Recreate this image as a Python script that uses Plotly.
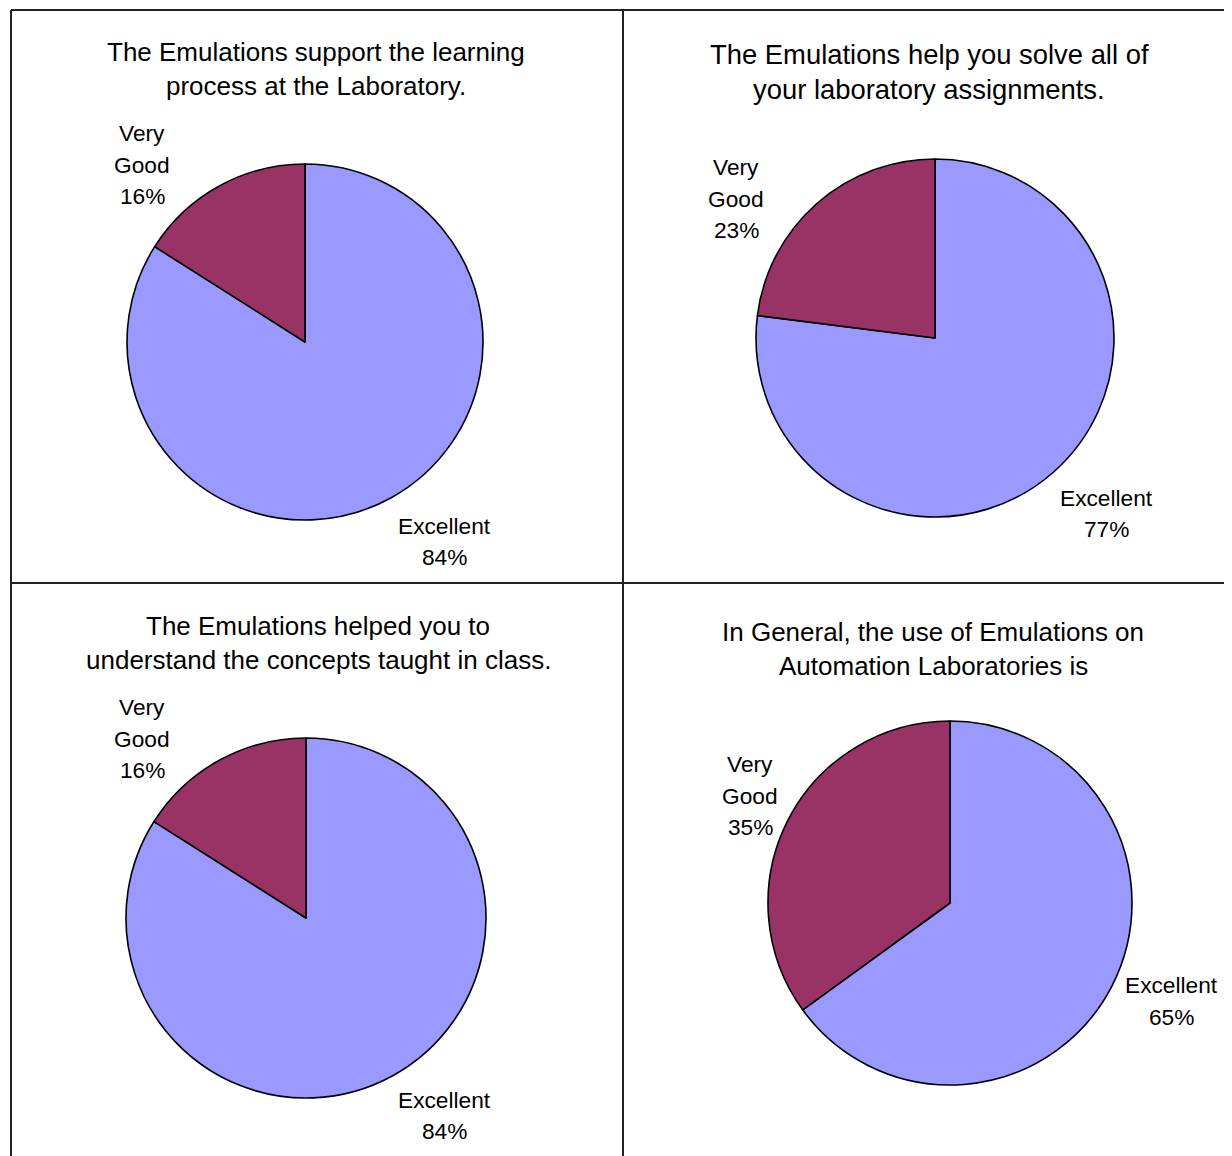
import plotly.graph_objects as go

W, H = 1232, 1156
OFF = 8  # page body margin compensation

# ---- data ----
categories = ["Excellent", "Very Good"]
titles = [
    ["The Emulations support the learning", "process at the Laboratory."],
    ["The Emulations help you solve all of", "your laboratory assignments."],
    ["The Emulations helped you to", "understand the concepts taught in class."],
    ["In General, the use of Emulations on", "Automation Laboratories is"],
]
excellent_pct = [84, 77, 84, 65]
very_good_pct = [16, 23, 16, 35]
colors = ["#9999FF", "#993366"]

# ---- layout (pixels in the target image) ----
pie_centers = [(305, 342), (935, 338), (306, 918), (950, 903)]
pie_radii = [178, 179, 180, 182]
title_x = [316, 929, 318, 933]
title_y = [(52, 86), (54, 90), (626, 660), (632, 666)]
title_sizes = [26, 27.4, 26, 26]
vg_x = [142, 736, 142, 750]
vg_y = [(133, 165, 196), (167, 199, 230), (707, 739, 770), (764, 796, 827)]
ex_x = [444, 1106, 444, 1171]
ex_y = [(526, 557), (498, 529), (1100, 1131), (985, 1017)]
LABEL_SIZE = 22.7
FONT = "Liberation Sans, Arial, sans-serif"


def px(x):
    return (x - OFF) / W


def py(y):
    return 1 - (y - OFF) / H


fig = go.Figure()
annotations = []


def add_text(x, y, text, size):
    annotations.append(dict(
        x=px(x), y=py(y), xref="paper", yref="paper", text=text,
        showarrow=False, xanchor="center", yanchor="middle", align="center",
        font=dict(size=size, color="black", family=FONT),
    ))


for i in range(4):
    cx, cy = pie_centers[i]
    r = pie_radii[i]
    fig.add_trace(go.Pie(
        labels=categories,
        values=[excellent_pct[i], very_good_pct[i]],
        marker=dict(colors=colors, line=dict(color="black", width=1.6)),
        sort=False,
        direction="clockwise",
        rotation=0,
        textinfo="none",
        hoverinfo="label+percent",
        showlegend=False,
        domain=dict(x=[px(cx - r), px(cx + r)], y=[py(cy + r), py(cy - r)]),
    ))
    for line, ly in zip(titles[i], title_y[i]):
        add_text(title_x[i], ly, line, title_sizes[i])
    vg_lines = categories[1].split(" ") + [f"{very_good_pct[i]}%"]
    for line, ly in zip(vg_lines, vg_y[i]):
        add_text(vg_x[i], ly, line, LABEL_SIZE)
    ex_lines = [categories[0], f"{excellent_pct[i]}%"]
    for line, ly in zip(ex_lines, ex_y[i]):
        add_text(ex_x[i], ly, line, LABEL_SIZE)

line_style = dict(color="#222222", width=2)
shapes = [
    dict(type="line", xref="paper", yref="paper", x0=px(11), x1=px(1250), y0=py(10), y1=py(10), line=line_style),
    dict(type="line", xref="paper", yref="paper", x0=px(11), x1=px(11), y0=py(10), y1=py(1180), line=line_style),
    dict(type="line", xref="paper", yref="paper", x0=px(623), x1=px(623), y0=py(10), y1=py(1180), line=line_style),
    dict(type="line", xref="paper", yref="paper", x0=px(11), x1=px(1250), y0=py(583), y1=py(583), line=line_style),
]

fig.update_layout(
    width=W, height=H,
    margin=dict(l=0, r=0, t=0, b=0),
    paper_bgcolor="white",
    plot_bgcolor="white",
    annotations=annotations,
    shapes=shapes,
    font=dict(family=FONT, color="black"),
)

fig.write_html("out.html")
